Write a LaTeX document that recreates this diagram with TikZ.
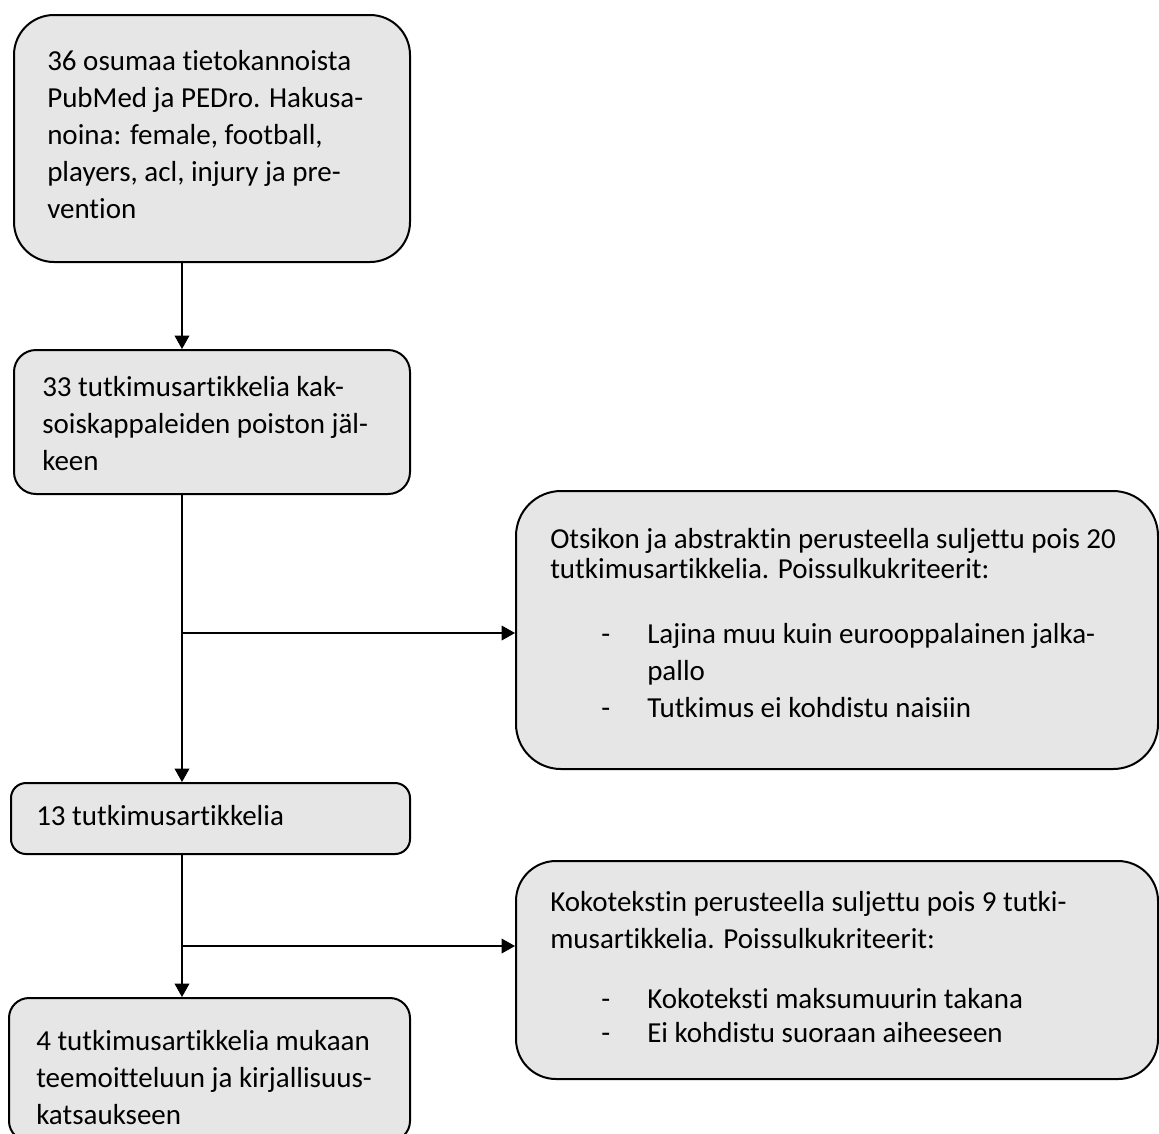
\documentclass[tikz,border=0pt]{standalone}
\usepackage{fontspec}
\setmainfont{Carlito}[Ligatures=NoCommon]
\usetikzlibrary{arrows.meta}
\definecolor{boxfill}{HTML}{E6E6E6}
\tikzset{
  flowbox/.style={draw=black, line width=1.5pt, fill=boxfill, inner sep=0pt, anchor=north west},
  flowtext/.style={anchor=base west, inner sep=0pt, font=\fontsize{21.75pt}{27.75pt}\selectfont},
  conn/.style={line width=1pt},
  arr/.style={conn, -{Triangle[length=10pt,width=11pt]}},
}
\newcommand\bulletline[1]{\hspace*{38.25pt}\makebox[34.5pt][l]{-}#1}
\begin{document}
\begin{tikzpicture}[x=0.75pt, y=-0.75pt]
\useasboundingbox (0,0) rectangle (1159,1133);
\clip (0,0) rectangle (1159,1133);

% boxes
\node[flowbox, rounded corners=30pt, minimum width=297pt, minimum height=185.25pt] (b1) at (13,14) {};
\node[flowbox, rounded corners=16.5pt, minimum width=297pt, minimum height=108pt] (b2) at (13,349) {};
\node[flowbox, rounded corners=11.25pt, minimum width=299.25pt, minimum height=53.25pt] (b3) at (10,782) {};
\node[flowbox, rounded corners=15pt, minimum width=300.75pt, minimum height=107.25pt] (b4) at (8,997) {};
\node[flowbox, rounded corners=33.75pt, minimum width=481.5pt, minimum height=208.5pt] (r1) at (515,490) {};
\node[flowbox, rounded corners=30pt, minimum width=481.5pt, minimum height=163.5pt] (r2) at (515,860) {};

% texts
\node[flowtext] (t1) at (47,70) {\parbox[t]{600pt}{\raggedright
36 osumaa tietokannoista\\
PubMed ja PEDro. Hakusa-\\
noina: female, football,\\
players, acl, injury ja pre-\\
vention}};
\node[flowtext] (t2) at (42,396) {\parbox[t]{600pt}{\raggedright
33 tutkimusartikkelia kak-\\
soiskappaleiden poiston jäl-\\
keen}};
\node[flowtext] (t3) at (36,825) {13 tutkimusartikkelia};
\node[flowtext] (t4) at (36,1050) {\parbox[t]{600pt}{\raggedright
4 tutkimusartikkelia mukaan\\
teemoitteluun ja kirjallisuus-\\
katsaukseen}};
\node[flowtext] (t5) at (550,548) {\parbox[t]{600pt}{\raggedright
Otsikon ja abstraktin perusteella suljettu pois 20\\[-5.25pt]
tutkimusartikkelia. Poissulkukriteerit:\\[21pt]
\bulletline{Lajina muu kuin eurooppalainen jalka-}\\
\hspace*{72.75pt}pallo\\
\bulletline{Tutkimus ei kohdistu naisiin}}};
\node[flowtext] (t6) at (550,911) {\parbox[t]{600pt}{\raggedright
Kokotekstin perusteella suljettu pois 9 tutki-\\
musartikkelia. Poissulkukriteerit:\\[17.25pt]
\bulletline{Kokoteksti maksumuurin takana}\\[-2.25pt]
\bulletline{Ei kohdistu suoraan aiheeseen}}};

% connectors
\coordinate (j1) at (182,633);
\coordinate (j2) at (182,946);
\draw[arr] (b1.south -| j1) -- (b2.north -| j1);
\draw[arr] (b2.south -| j1) -- (b3.north -| j1);
\draw[arr] (j1) -- (j1 -| r1.west);
\draw[arr] (b3.south -| j1) -- (b4.north -| j1);
\draw[arr] (j2) -- (j2 -| r2.west);
\end{tikzpicture}
\end{document}
